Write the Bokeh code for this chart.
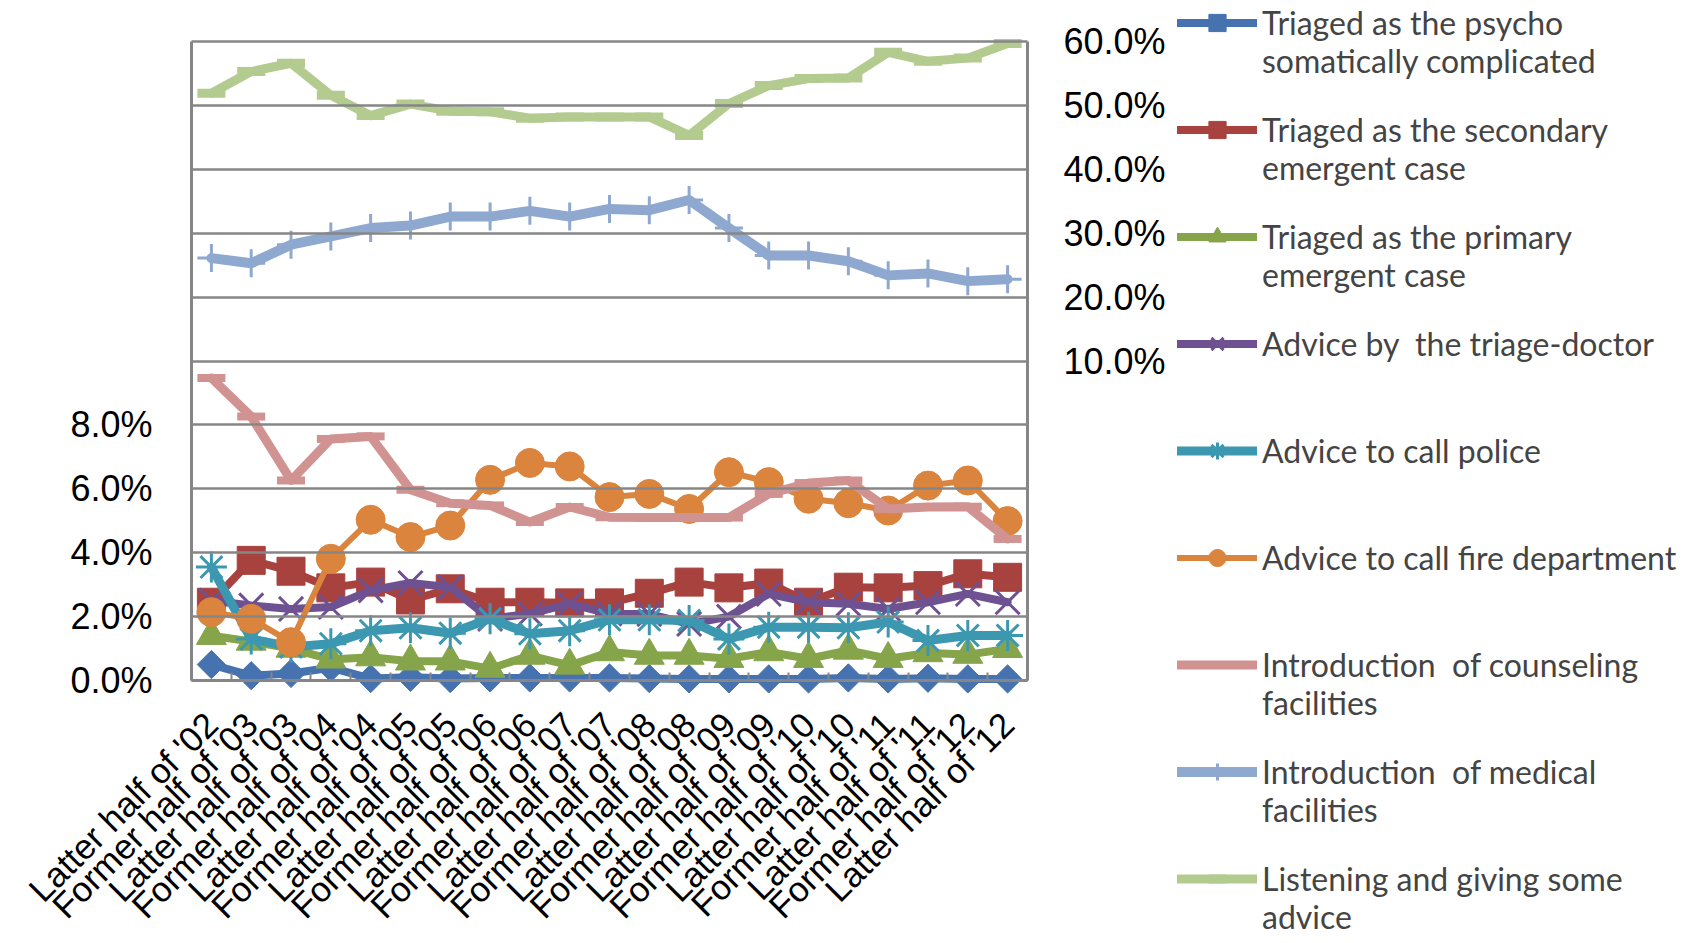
import math
import numpy as np
from bokeh.plotting import figure
from bokeh.models import (Range1d, LinearAxis, FixedTicker, PrintfTickFormatter,
                          Legend, LegendItem, ColumnDataSource)
from bokeh.embed import file_html
from bokeh.resources import INLINE

periods = ["Latter half of '02", "Former half of '03", "Latter half of '03", "Former half of '04",
           "Latter half of '04", "Former half of '05", "Latter half of '05", "Former half of '06",
           "Latter half of '06", "Former half of '07", "Latter half of '07", "Former half of '08",
           "Latter half of '08", "Former half of '09", "Latter half of '09", "Former half of '10",
           "Latter half of '10", "Former half of '11", "Latter half of '11", "Former half of '12",
           "Latter half of '12"]

# values in percent (left axis, 0-20 %)
psycho = [0.50, 0.15, 0.22, 0.40, 0.06, 0.10, 0.06, 0.08, 0.08, 0.08, 0.08,
          0.06, 0.05, 0.05, 0.05, 0.05, 0.08, 0.05, 0.07, 0.05, 0.05]
secondary = [2.45, 3.76, 3.42, 2.90, 3.08, 2.52, 2.87, 2.45, 2.45, 2.43, 2.43,
             2.73, 3.08, 2.90, 3.05, 2.45, 2.92, 2.90, 2.97, 3.34, 3.23]
primary = [1.40, 1.22, 1.00, 0.66, 0.73, 0.60, 0.60, 0.37, 0.78, 0.47, 0.89,
           0.78, 0.78, 0.68, 0.89, 0.68, 0.94, 0.68, 0.86, 0.81, 0.99]
doctor = [2.50, 2.35, 2.24, 2.30, 2.82, 3.05, 2.92, 1.93, 2.09, 2.40, 2.09,
          2.08, 1.77, 2.00, 2.71, 2.45, 2.40, 2.24, 2.45, 2.71, 2.45]
police = [3.55, 1.30, 1.05, 1.15, 1.56, 1.65, 1.48, 1.93, 1.46, 1.56, 1.90,
          1.90, 1.88, 1.30, 1.67, 1.67, 1.65, 1.83, 1.25, 1.41, 1.41]
fire = [2.14, 1.93, 1.20, 3.81, 5.03, 4.49, 4.85, 6.28, 6.81, 6.70, 5.74,
        5.84, 5.37, 6.52, 6.21, 5.69, 5.55, 5.32, 6.10, 6.26, 4.99]
counseling = [9.47, 8.26, 6.26, 7.56, 7.64, 5.97, 5.55, 5.48, 4.96, 5.43, 5.11,
              5.10, 5.10, 5.10, 5.84, 6.18, 6.26, 5.37, 5.43, 5.44, 4.43]
# values in percent (right axis)
medical = [26.1, 25.3, 28.2, 29.5, 30.8, 31.2, 32.6, 32.6, 33.5, 32.6, 33.8,
           33.6, 35.2, 30.8, 26.5, 26.5, 25.6, 23.4, 23.7, 22.5, 22.8]
listening = [51.9, 55.3, 56.6, 51.6, 48.4, 50.2, 49.1, 49.0, 48.0, 48.2, 48.2,
             48.2, 45.3, 50.3, 53.1, 54.2, 54.3, 58.3, 56.9, 57.4, 59.7]

left_labels = {0: "0.0%", 2: "2.0%", 4: "4.0%", 6: "6.0%", 8: "8.0%"}
grid_ticks = [0, 2, 4, 6, 8, 10, 12, 14, 16, 18, 20]
right_ticks = [10, 20, 30, 40, 50, 60]

# legend text: first line (next to the symbol) and second line
label_line1 = ["Triaged as the psycho", "Triaged as the secondary",
               "Triaged as the primary", "Advice by  the triage-doctor",
               "Advice to call police", "Advice to call fire department",
               "Introduction  of counseling", "Introduction  of medical",
               "Listening and giving some"]
label_line2 = ["somatically complicated", "emergent case", "emergent case",
               " ", " ", " ", "facilities", "facilities", "advice"]

GRID = "#868686"
FONT_AX = "Liberation Sans"
FONT_LG = "Lato"
x = list(range(len(periods)))
n = len(periods)

# ---- page geometry (pixels) ----
W, H = 1684, 935
PL, PR, PT, P0 = 191, 1027, 41, 680          # plot area: left, right, top, zero line
kx = (PR - PL) / n                            # px per category
ky = (P0 - PT) / 20.0                         # px per 1 % on the left scale
x_start = -0.5 - PL / kx
x_end = x_start + W / kx
y_end = 20 + PT / ky
y_start = -(H - P0) / ky

p = figure(width=W, height=H, x_range=Range1d(x_start, x_end),
           y_range=Range1d(y_start, y_end), output_backend="svg",
           toolbar_location=None, min_border=0, min_border_left=0,
           min_border_right=0, min_border_top=0, min_border_bottom=0)
# right scale: its 0 % sits on the 8 % line of the left one, 10 % per 2 %
p.extra_y_ranges = {"right": Range1d(5 * y_start - 40, 5 * y_end - 40)}
p.background_fill_color = "white"
p.border_fill_color = "white"
p.outline_line_color = None
p.grid.visible = False

# left axis: border, grid lines (as long inner ticks) and labels 0-8 %
ya = p.yaxis[0]
ya.fixed_location = -0.5
ya.bounds = (0, 20)
ya.ticker = FixedTicker(ticks=grid_ticks)
ya.major_label_overrides = {t: left_labels.get(t, "") for t in grid_ticks}
ya.axis_line_color = GRID
ya.axis_line_width = 3
ya.major_tick_line_color = GRID
ya.major_tick_line_width = 2.5
ya.major_tick_in = int(round(PR - PL))
ya.major_tick_out = 0
ya.minor_tick_line_color = None
ya.major_label_standoff = 39
ya.major_label_text_font = FONT_AX
ya.major_label_text_font_size = "36px"
ya.major_label_text_color = "black"

# right axis: border and labels 10-60 %
ra = LinearAxis(y_range_name="right", fixed_location=n - 0.5, bounds=(-40, 60),
                ticker=FixedTicker(ticks=right_ticks),
                formatter=PrintfTickFormatter(format="%.1f%%"))
ra.axis_line_color = GRID
ra.axis_line_width = 3
ra.major_tick_line_color = None
ra.minor_tick_line_color = None
ra.major_tick_out = 0
ra.major_tick_in = 0
ra.major_label_standoff = 36
ra.major_label_text_font = FONT_AX
ra.major_label_text_font_size = "36px"
ra.major_label_text_color = "black"
p.add_layout(ra, "right")

# category axis on the zero line
xa = p.xaxis[0]
xa.fixed_location = 0
xa.bounds = (-0.5, n - 0.5)
xa.ticker = FixedTicker(ticks=x, minor_ticks=[k - 0.5 for k in range(n + 1)])
xa.major_label_overrides = {i: s for i, s in enumerate(periods)}
xa.major_label_orientation = math.pi / 4
xa.major_tick_line_color = None
xa.major_tick_in = 0
xa.major_tick_out = 0
xa.minor_tick_in = 8
xa.minor_tick_out = 0
xa.minor_tick_line_color = GRID
xa.minor_tick_line_width = 2
xa.axis_line_color = GRID
xa.axis_line_width = 3
xa.major_label_text_font = FONT_AX
xa.major_label_text_font_size = "35px"
xa.major_label_text_color = "black"
xa.major_label_standoff = 38

series = [
    (psycho, "#4672B0", 8, dict(marker="square", size=20, angle=math.pi / 4), "default"),
    (secondary, "#A8423F", 8, dict(marker="square", size=28), "default"),
    (primary, "#86A44A", 8, dict(marker="triangle", size=30), "default"),
    (doctor, "#6E5191", 8, dict(marker="x", size=34, line_width=3), "default"),
    (police, "#3C98B0", 9, dict(marker="asterisk", size=31, line_width=3), "default"),
    (fire, "#DB843D", 6, dict(marker="circle", size=29), "default"),
    (counseling, "#D19392", 9, dict(marker="dash", size=28, line_width=8), "default"),
    (medical, "#8EA8CF", 10, dict(marker="cross", size=28, line_width=3), "right"),
    (listening, "#B3CB8F", 9, dict(marker="dash", size=28, line_width=9), "right"),
]

items1 = []
for (vals, color, lw, mk, rng), t1 in zip(series, label_line1):
    src = ColumnDataSource(dict(x=x, y=vals))
    lr = p.line("x", "y", source=src, line_color=color, line_width=lw,
                line_join="round", line_cap="round", y_range_name=rng)
    mk = dict(mk)
    mlw = mk.pop("line_width", 1)
    sr = p.scatter("x", "y", source=src, fill_color=color, line_color=color,
                   line_width=mlw, y_range_name=rng, **mk)
    items1.append(LegendItem(label=t1, renderers=[lr, sr]))

blank = p.line(x=[], y=[], line_alpha=0)
items2 = [LegendItem(label=t2, renderers=[blank]) for t2 in label_line2]

ITEM_H, PITCH, LINE_GAP, TOP = 43, 107, 38, 1
leg_h = len(items1) * ITEM_H + (len(items1) - 1) * (PITCH - ITEM_H)
common = dict(padding=0, margin=0, spacing=PITCH - ITEM_H, glyph_width=80,
              glyph_height=ITEM_H, label_standoff=5, label_height=ITEM_H,
              label_text_font=FONT_LG, label_text_font_size="32px",
              border_line_color=None, background_fill_alpha=0)
leg1 = Legend(items=items1, location=(1177, H - TOP - leg_h), **common)
leg2 = Legend(items=items2, location=(1177, H - TOP - LINE_GAP - leg_h), **common)
p.add_layout(leg1)
p.add_layout(leg2)

open("out.html", "w").write(file_html(p, INLINE))
